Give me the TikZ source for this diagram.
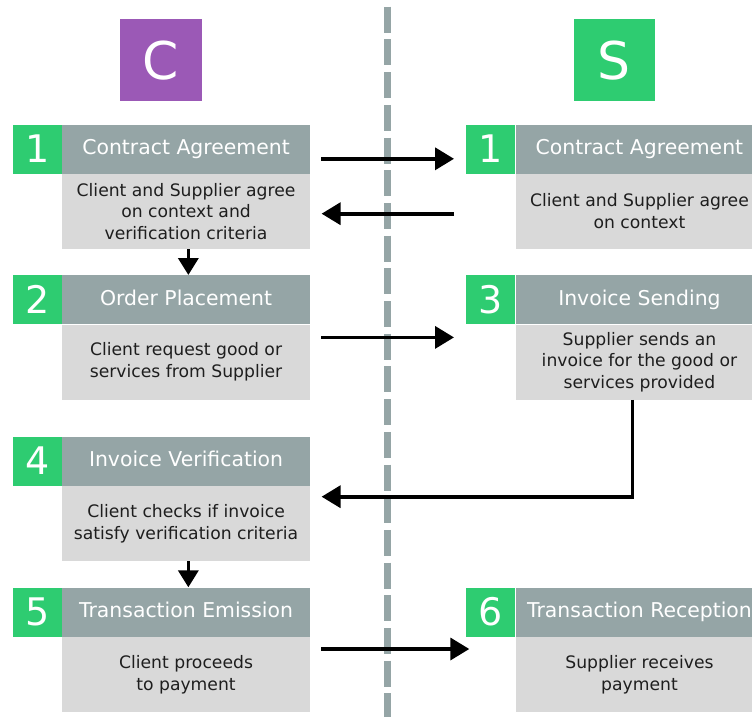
\documentclass[tikz,border=0pt]{standalone}
\usepackage{fontspec}
\setmainfont{DejaVu Sans}
\usetikzlibrary{arrows.meta,calc}
\definecolor{cpurple}{HTML}{9B59B6}
\definecolor{cgreen}{HTML}{2ECC71}
\definecolor{cgray}{HTML}{95A5A6}
\definecolor{clight}{HTML}{D9D9D9}
\definecolor{ctext}{HTML}{1E1E1E}
\tikzset{
  actor/.style={minimum width=81.7pt, minimum height=81.7pt, inner sep=0pt, text=white,
    anchor=north west, font=\fontsize{52}{56}\selectfont, text height=37.9pt, text depth=0pt},
  numbox/.style={fill=cgreen, text=white, minimum width=49.3pt, minimum height=49pt,
    inner sep=0pt, anchor=north west, font=\fontsize{38}{40}\selectfont,
    text height=27.7pt, text depth=0pt},
  titlebox/.style={fill=cgray, text=white, minimum width=247.7pt, minimum height=49pt,
    inner sep=0pt, anchor=north west, font=\fontsize{20.4}{24}\selectfont,
    text height=14.9pt, text depth=3pt},
  descbox/.style={fill=clight, text=ctext, minimum width=247.7pt, minimum height=75pt,
    inner sep=0pt, anchor=north, align=center, font=\fontsize{17.2}{21.7}\selectfont},
  msg/.style={line width=3.6pt, -{Triangle[length=19pt,width=22pt]}},
  flow/.style={line width=3.6pt, -{Triangle[length=17pt,width=20pt]}},
  lifeline/.style={draw=cgray, line width=6.5pt, dash pattern=on 26pt off 6.7pt},
}
\begin{document}
\begin{tikzpicture}[x=1pt,y=1pt]
  \useasboundingbox (0,0) rectangle (752,-717);
  \clip (0,0) rectangle (752,-717);

  % separator between the two parties
  \draw[lifeline] (387.3,-6.7) -- (387.3,-730);

  % parties
  \node[actor, fill=cpurple] (client) at (120,-19) {C};
  \node[actor, fill=cgreen] (supplier) at (573.3,-19) {S};

  % client steps
  \node[numbox] (ln1) at (12.3,-124.3) {1};
  \node[titlebox] (lt1) at (ln1.north east) {Contract Agreement};
  \node[descbox] (ld1) at (lt1.south) {Client and Supplier agree\\on context and\\verification criteria};

  \node[numbox] (ln2) at (12.3,-275) {2};
  \node[titlebox] (lt2) at (ln2.north east) {Order Placement};
  \node[descbox] (ld2) at (lt2.south) {Client request good or\\services from Supplier};

  \node[numbox] (ln4) at (12.3,-436.3) {4};
  \node[titlebox] (lt4) at (ln4.north east) {Invoice Verification};
  \node[descbox] (ld4) at (lt4.south) {Client checks if invoice\\satisfy verification criteria};

  \node[numbox] (ln5) at (12.3,-587.3) {5};
  \node[titlebox] (lt5) at (ln5.north east) {Transaction Emission};
  \node[descbox] (ld5) at (lt5.south) {Client proceeds\\to payment};

  % supplier steps
  \node[numbox] (rn1) at (465.7,-124.3) {1};
  \node[titlebox] (rt1) at (rn1.north east) {Contract Agreement};
  \node[descbox] (rd1) at (rt1.south) {Client and Supplier agree\\on context};

  \node[numbox] (rn3) at (465.7,-275) {3};
  \node[titlebox] (rt3) at (rn3.north east) {Invoice Sending};
  \node[descbox] (rd3) at (rt3.south) {Supplier sends an\\invoice for the good or\\services provided};

  \node[numbox] (rn6) at (465.7,-587.3) {6};
  \node[titlebox] (rt6) at (rn6.north east) {Transaction Reception};
  \node[descbox] (rd6) at (rt6.south) {Supplier receives\\payment};

  % messages across the separator
  \draw[msg] ($(lt1.east)+(11,-9.8)$) -- ($(rn1.west)+(-11.7,-9.8)$);
  \draw[msg] ($(rn1.west |- rd1.west)+(-11.7,-2.3)$) -- ($(ld1.east)+(11.5,-2.3)$);
  \draw[msg] ($(ld2.north east)+(11,-13)$) -- ($(rn3.south west)+(-11.7,-13)$);
  \draw[msg] ($(rd3.south)+(-7,0)$) |- ($(ld4.north east)+(11.5,-11)$);
  \draw[msg] ($(ld5.north east)+(11,-12.3)$) -- ($(rn6.west |- ld5.north east)+(3.6,-12.3)$);

  % flow within the client column
  \draw[flow] ($(ld1.south)+(2.3,0)$) -- ($(lt2.north)+(2.3,0)$);
  \draw[flow] ($(ld4.south)+(2.3,0)$) -- ($(lt5.north)+(2.3,0)$);
\end{tikzpicture}
\end{document}
